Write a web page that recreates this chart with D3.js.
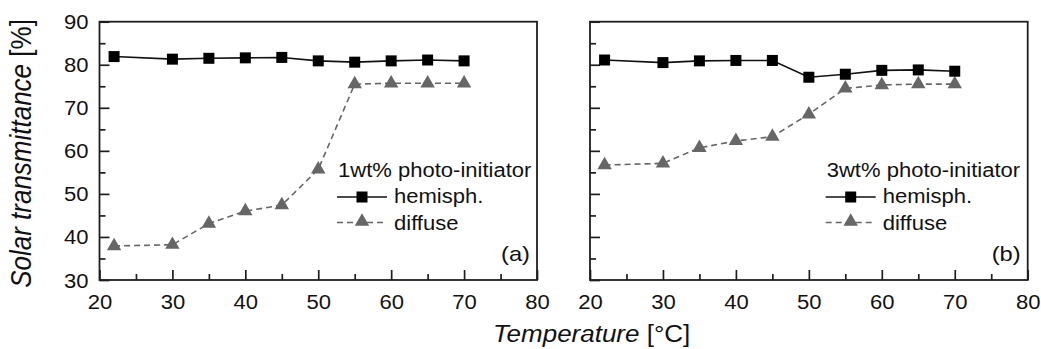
<!DOCTYPE html>
<html><head><meta charset="utf-8">
<script src="https://cdn.jsdelivr.net/npm/d3@7"></script>
<style>body{margin:0;background:#fff}svg{display:block}</style>
</head><body>
<script>
const temps = [22,30,35,40,45,50,55,60,65,70];
const hemiA = [81.9,81.3,81.5,81.6,81.7,80.9,80.6,80.9,81.1,80.9];
const diffA = [37.9,38.2,43.1,46.0,47.4,55.7,75.5,75.7,75.7,75.7];
const hemiB = [81.1,80.5,80.9,81.0,81.0,77.1,77.8,78.7,78.8,78.5];
const diffB = [56.7,57.1,60.7,62.3,63.3,68.5,74.5,75.3,75.5,75.5];
const xMajor = [20,30,40,50,60,70,80];
const xMinor = [25,35,45,55,65,75];
const yMajor = [30,40,50,60,70,80,90];
const yMinor = [35,45,55,65,75,85];
const panelTitles = ["1wt% photo-initiator","3wt% photo-initiator"];
const panelLabels = ["(a)","(b)"];
const seriesNames = ["hemisph.","diffuse"];
const yTitle = "Solar transmittance";
const xTitle = "Temperature";

const W=1041,H=349,SX=1.13,FONT="'Liberation Sans', Arial, sans-serif";
const svg=d3.select("body").append("svg").attr("width",W).attr("height",H).style("font-family",FONT);
const yTop=21.7,yBottom=280;
const y=d3.scaleLinear().domain([30,90]).range([yBottom,yTop]);
const panels=[{l:99.5,r:537,h:hemiA,d:diffA,labels:true},{l:590,r:1027.7,h:hemiB,d:diffB,labels:false}];
const frameCol="#1e1e1e", grayCol="#666", textCol="#111";

panels.forEach((p,i)=>{
  const x=d3.scaleLinear().domain([20,80]).range([p.l,p.r]);
  const g=svg.append("g");
  const ax=g.append("g").attr("transform",`translate(0,${yBottom})`)
    .call(d3.axisBottom(x).tickValues(xMajor).tickSizeInner(-10).tickSizeOuter(0).tickPadding(15).tickFormat(d3.format("d")));
  g.append("g").attr("transform",`translate(0,${yBottom})`)
    .call(d3.axisBottom(x).tickValues(xMinor).tickSizeInner(-6).tickSizeOuter(0).tickFormat(""));
  const ay=g.append("g").attr("transform",`translate(${p.l},0)`)
    .call(d3.axisLeft(y).tickValues(yMajor).tickSizeInner(-10).tickSizeOuter(0).tickPadding(11).tickFormat(p.labels?d3.format("d"):()=>""));
  g.append("g").attr("transform",`translate(${p.l},0)`)
    .call(d3.axisLeft(y).tickValues(yMinor).tickSizeInner(-6).tickSizeOuter(0).tickFormat(""));
  g.selectAll(".domain").remove();
  g.selectAll(".tick line").attr("stroke",frameCol).attr("stroke-width",1.7);
  g.selectAll(".tick text").attr("font-size",19.5).attr("font-family",FONT).attr("fill",textCol);
  ax.selectAll(".tick text").attr("transform",`scale(${SX},1)`);
  ay.selectAll(".tick text").attr("x",-11/SX).attr("dy","0.36em").attr("transform",`scale(${SX},1)`);
  g.append("rect").attr("x",p.l).attr("y",yTop).attr("width",p.r-p.l).attr("height",yBottom-yTop)
    .attr("fill","none").attr("stroke",frameCol).attr("stroke-width",1.8);
  const line=d3.line().x((d,j)=>x(temps[j])).y(d=>y(d));
  g.append("path").datum(p.d).attr("d",line).attr("fill","none").attr("stroke",grayCol).attr("stroke-width",1.6).attr("stroke-dasharray","6,4");
  g.append("path").datum(p.h).attr("d",line).attr("fill","none").attr("stroke","#111").attr("stroke-width",1.6);
  const tri=d3.symbol().type(d3.symbolTriangle).size(90);
  const sq=d3.symbol().type(d3.symbolSquare).size(121);
  g.selectAll(".tri").data(p.d).join("path").attr("d",tri).attr("fill",grayCol)
    .attr("transform",(d,j)=>`translate(${x(temps[j])},${y(d)})`);
  g.selectAll(".sq").data(p.h).join("path").attr("d",sq).attr("fill","#000")
    .attr("transform",(d,j)=>`translate(${x(temps[j])},${y(d)})`);
  const lx = i===0?338:826.7;
  const txt=(tx,ty,s,anchor,fs)=>g.append("text").attr("transform",`translate(${tx},${ty}) scale(${SX},1)`)
    .attr("text-anchor",anchor||"start").attr("font-size",fs||19.5).attr("fill",textCol).text(s);
  txt(lx,176.7,panelTitles[i]);
  g.append("line").attr("x1",lx-1).attr("x2",lx+49).attr("y1",197).attr("y2",197).attr("stroke","#111").attr("stroke-width",1.6);
  g.append("path").attr("d",sq).attr("fill","#000").attr("transform",`translate(${lx+24},197)`);
  txt(lx+56,203.3,seriesNames[0]);
  g.append("line").attr("x1",lx-1).attr("x2",lx+49).attr("y1",222.5).attr("y2",222.5).attr("stroke",grayCol).attr("stroke-width",1.6).attr("stroke-dasharray","6,4");
  g.append("path").attr("d",tri).attr("fill",grayCol).attr("transform",`translate(${lx+24},221.5)`);
  txt(lx+56,230,seriesNames[1]);
  txt(p.r-7,261,panelLabels[i],"end",21);
});

const yt=svg.append("text").attr("transform",`translate(31,153.5) scale(${SX},1) rotate(-90)`)
  .attr("text-anchor","middle").attr("font-size",26).attr("fill",textCol);
yt.append("tspan").attr("font-style","italic").text(yTitle);
yt.append("tspan").text(" [%]");
const xt=svg.append("text").attr("transform",`translate(591.7,341.7) scale(${SX},1)`)
  .attr("text-anchor","middle").attr("font-size",23).attr("fill",textCol);
xt.append("tspan").attr("font-style","italic").text(xTitle);
xt.append("tspan").text(" [°C]");
</script>
</body></html>
